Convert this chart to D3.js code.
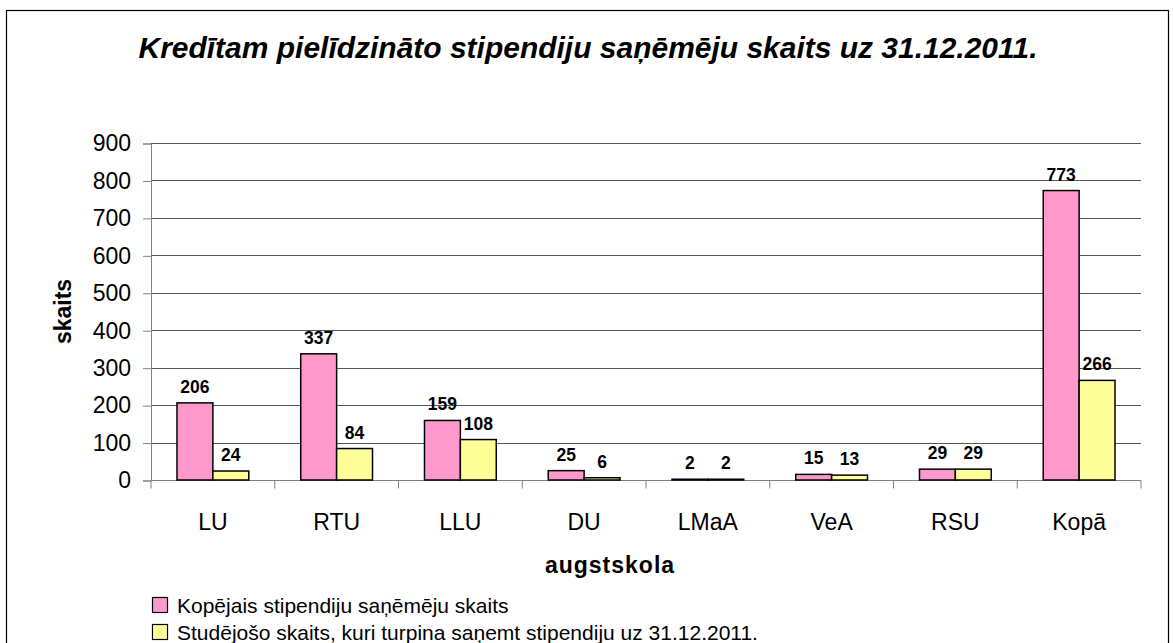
<!DOCTYPE html>
<meta charset="utf-8">
<style>
  body { margin: 0; background: #fff; }
  text { font-family: Arial, "Liberation Sans", sans-serif; }
</style>
<body>
<script src="https://d3js.org/d3.v7.min.js"></script>
<script>

var width = 1173,
    height = 643;

var categories = ["LU", "RTU", "LLU", "DU", "LMaA", "VeA", "RSU", "Kopā"];
var totalVals = [206, 337, 159, 25, 2, 15, 29, 773];
var continuingVals = [24, 84, 108, 6, 2, 13, 29, 266];
var seriesNames = ["Kopējais stipendiju saņēmēju skaits",
                   "Studējošo skaits, kuri turpina saņemt stipendiju uz 31.12.2011."];
var yTicks = [0, 100, 200, 300, 400, 500, 600, 700, 800, 900];
var colors = ["#ff99cc", "#ffff99"];

var margin = {left: 151, right: 32, top: 143, bottom: 163};

var svg = d3.select("body").append("svg")
    .attr("width", width)
    .attr("height", height);

// outer frame
svg.append("rect")
    .attr("x", 6.5).attr("y", 10.5)
    .attr("width", 1162).attr("height", 660)
    .attr("fill", "#fff").attr("stroke", "#000").attr("stroke-width", 1.2);

var x = d3.scaleBand()
    .domain(categories)
    .range([margin.left, width - margin.right]);

var y = d3.scaleLinear()
    .domain([0, 900])
    .range([height - margin.bottom, margin.top]);

// gridlines
svg.append("g").selectAll("line")
  .data(yTicks.slice(1))
  .enter().append("line")
    .attr("x1", margin.left).attr("x2", width - margin.right)
    .attr("y1", d => Math.round(y(d)) + 0.5).attr("y2", d => Math.round(y(d)) + 0.5)
    .attr("stroke", "#555").attr("stroke-width", 1);

// y axis
var yAxis = svg.append("g")
    .attr("transform", "translate(" + margin.left + ",0.5)")
    .call(d3.axisLeft(y).tickValues(yTicks).tickSize(8).tickPadding(12));
yAxis.selectAll("text").style("font-size", "23px").attr("fill", "#000");
yAxis.selectAll("line, path").attr("stroke", "#808080");

// x axis, ticks between categories
var xAxis = svg.append("g")
    .attr("transform", "translate(0," + (y(0) + 0.5) + ")");
xAxis.append("line")
    .attr("x1", margin.left).attr("x2", width - margin.right)
    .attr("stroke", "#808080");
xAxis.selectAll(".tk")
  .data(d3.range(categories.length + 1))
  .enter().append("line")
    .attr("x1", i => margin.left + i * x.bandwidth())
    .attr("x2", i => margin.left + i * x.bandwidth())
    .attr("y1", 0).attr("y2", 8)
    .attr("stroke", "#808080");
xAxis.selectAll(".lbl")
  .data(categories)
  .enter().append("text")
    .attr("x", d => x(d) + x.bandwidth() / 2)
    .attr("y", 49)
    .attr("text-anchor", "middle")
    .style("font-size", "23px")
    .text(d => d);

// bars + value labels
var bw = x.bandwidth() * 0.29;
var series = [totalVals, continuingVals];

series.forEach(function(vals, s) {
  var g = svg.append("g");
  g.selectAll("rect")
    .data(vals)
    .enter().append("rect")
      .attr("x", (d, i) => x(categories[i]) + x.bandwidth() / 2 - bw + s * bw)
      .attr("y", d => y(d))
      .attr("width", bw)
      .attr("height", d => y(0) - y(d))
      .attr("fill", colors[s])
      .attr("stroke", "#000")
      .attr("stroke-width", 1.5);
  g.selectAll("text")
    .data(vals)
    .enter().append("text")
      .attr("x", (d, i) => x(categories[i]) + x.bandwidth() / 2 - bw / 2 + s * bw)
      .attr("y", d => y(d) - 10)
      .attr("text-anchor", "middle")
      .style("font-size", "17.5px")
      .style("font-weight", "bold")
      .text(d => d);
});

// title
svg.append("text")
    .attr("x", 588).attr("y", 58)
    .attr("text-anchor", "middle")
    .attr("textLength", 899)
    .attr("lengthAdjust", "spacingAndGlyphs")
    .style("font-size", "30px")
    .style("font-weight", "bold")
    .style("font-style", "italic")
    .text("Kredītam pielīdzināto stipendiju saņēmēju skaits uz 31.12.2011.");

// axis titles
svg.append("text")
    .attr("transform", "translate(71," + ((y(0) + y(900)) / 2) + ") rotate(-90)")
    .attr("text-anchor", "middle")
    .style("font-size", "23px")
    .style("font-weight", "bold")
    .text("skaits");

svg.append("text")
    .attr("x", 610)
    .attr("y", 573)
    .attr("text-anchor", "middle")
    .style("font-size", "23px")
    .style("font-weight", "bold")
    .style("letter-spacing", "1px")
    .text("augstskola");

// legend
var legend = svg.append("g").attr("transform", "translate(152,597)");
seriesNames.forEach(function(name, i) {
  legend.append("rect")
      .attr("x", 0.5).attr("y", i * 27 + 0.5)
      .attr("width", 15).attr("height", 15)
      .attr("fill", colors[i]).attr("stroke", "#000").attr("stroke-width", 1.2);
  legend.append("text")
      .attr("x", 25).attr("y", i * 27 + 16)
      .style("font-size", "21px")
      .text(name);
});

</script>
